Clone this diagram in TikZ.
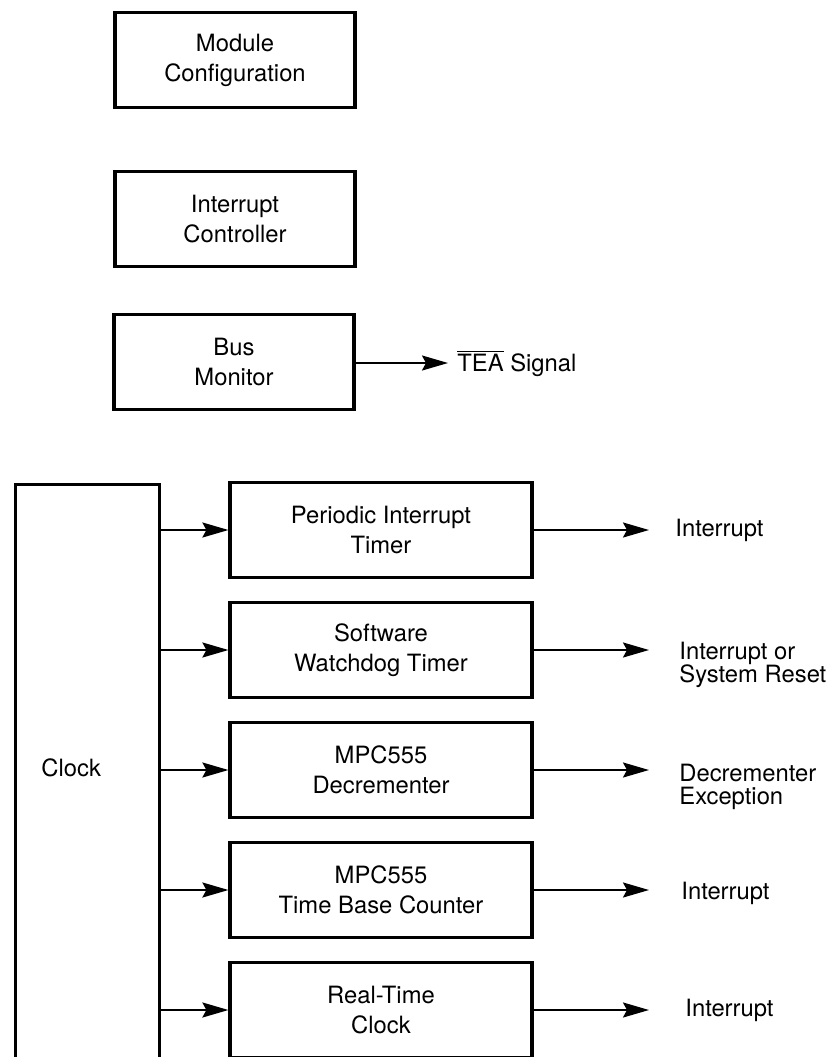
\documentclass[tikz,border=0pt]{standalone}
\usepackage{fontspec}
\setmainfont{TeX Gyre Heros}
\usetikzlibrary{arrows.meta,positioning}

\tikzset{
  blk/.style={draw, line width=1.6pt, minimum width=120pt, minimum height=47.5pt,
    align=center, font=\fontsize{11.9}{15}\selectfont},
  tmr/.style={blk, minimum width=151pt},
  sig/.style={line width=1pt, -{Stealth[length=13pt,width=7.5pt,inset=2pt]}},
  outlbl/.style={anchor=west, align=left, inner xsep=13pt, font=\fontsize{11.9}{11.5}\selectfont}
}

\begin{document}
\begin{tikzpicture}[x=0.5pt,y=-0.5pt]
  \useasboundingbox (0,0) rectangle (828,1057);
  \clip (0,0) rectangle (828,1057);
  % stand-alone blocks
  \node[blk] (modcfg) at (235,60) {Module\\Configuration};
  \node[blk] (intctl) at (235,219) {Interrupt\\Controller};
  \node[blk] (busmon) at (234,362) {Bus\\Monitor};
  \node[outlbl, inner xsep=4.5pt] (tea) at (448,363) {$\overline{\mbox{TEA}}$ Signal};
  \draw[sig] (busmon.east |- tea.west) -- (tea.west);

  % clock and the timers it feeds
  \node[draw, line width=1.6pt, minimum width=72pt, minimum height=300pt, anchor=north west] (clock) at (14,483) {};
  \node[font=\fontsize{11.9}{15}\selectfont, anchor=west, inner sep=0pt] (clocktxt) at (41,768) {Clock};

  \node[tmr] (pit) at (381,530) {Periodic Interrupt\\Timer};
  \node[tmr] (swt) at (381,650) {Software\\Watchdog Timer};
  \node[tmr] (dec) at (381,770) {MPC555\\Decrementer};
  \node[tmr] (tbc) at (381,890) {MPC555\\Time Base Counter};
  \node[tmr] (rtc) at (381,1010) {Real-Time\\Clock};

  \node[outlbl] (pit-out) at (649,530) {Interrupt};
  \node[outlbl, inner xsep=15pt] (swt-out) at (649,665) {Interrupt or\\System Reset};
  \node[outlbl, inner xsep=15pt] (dec-out) at (649,787) {Decrementer\\Exception};
  \node[outlbl, inner xsep=16pt] (tbc-out) at (649,893) {Interrupt};
  \node[outlbl, inner xsep=18pt] (rtc-out) at (649,1010) {Interrupt};

  \foreach \t in {pit,swt,dec,tbc,rtc} {
    \draw[sig] (clock.east |- \t.west) -- (\t.west);
    \draw[sig] (\t.east) -- (\t.east -| \t-out.west);
  }
\end{tikzpicture}
\end{document}
